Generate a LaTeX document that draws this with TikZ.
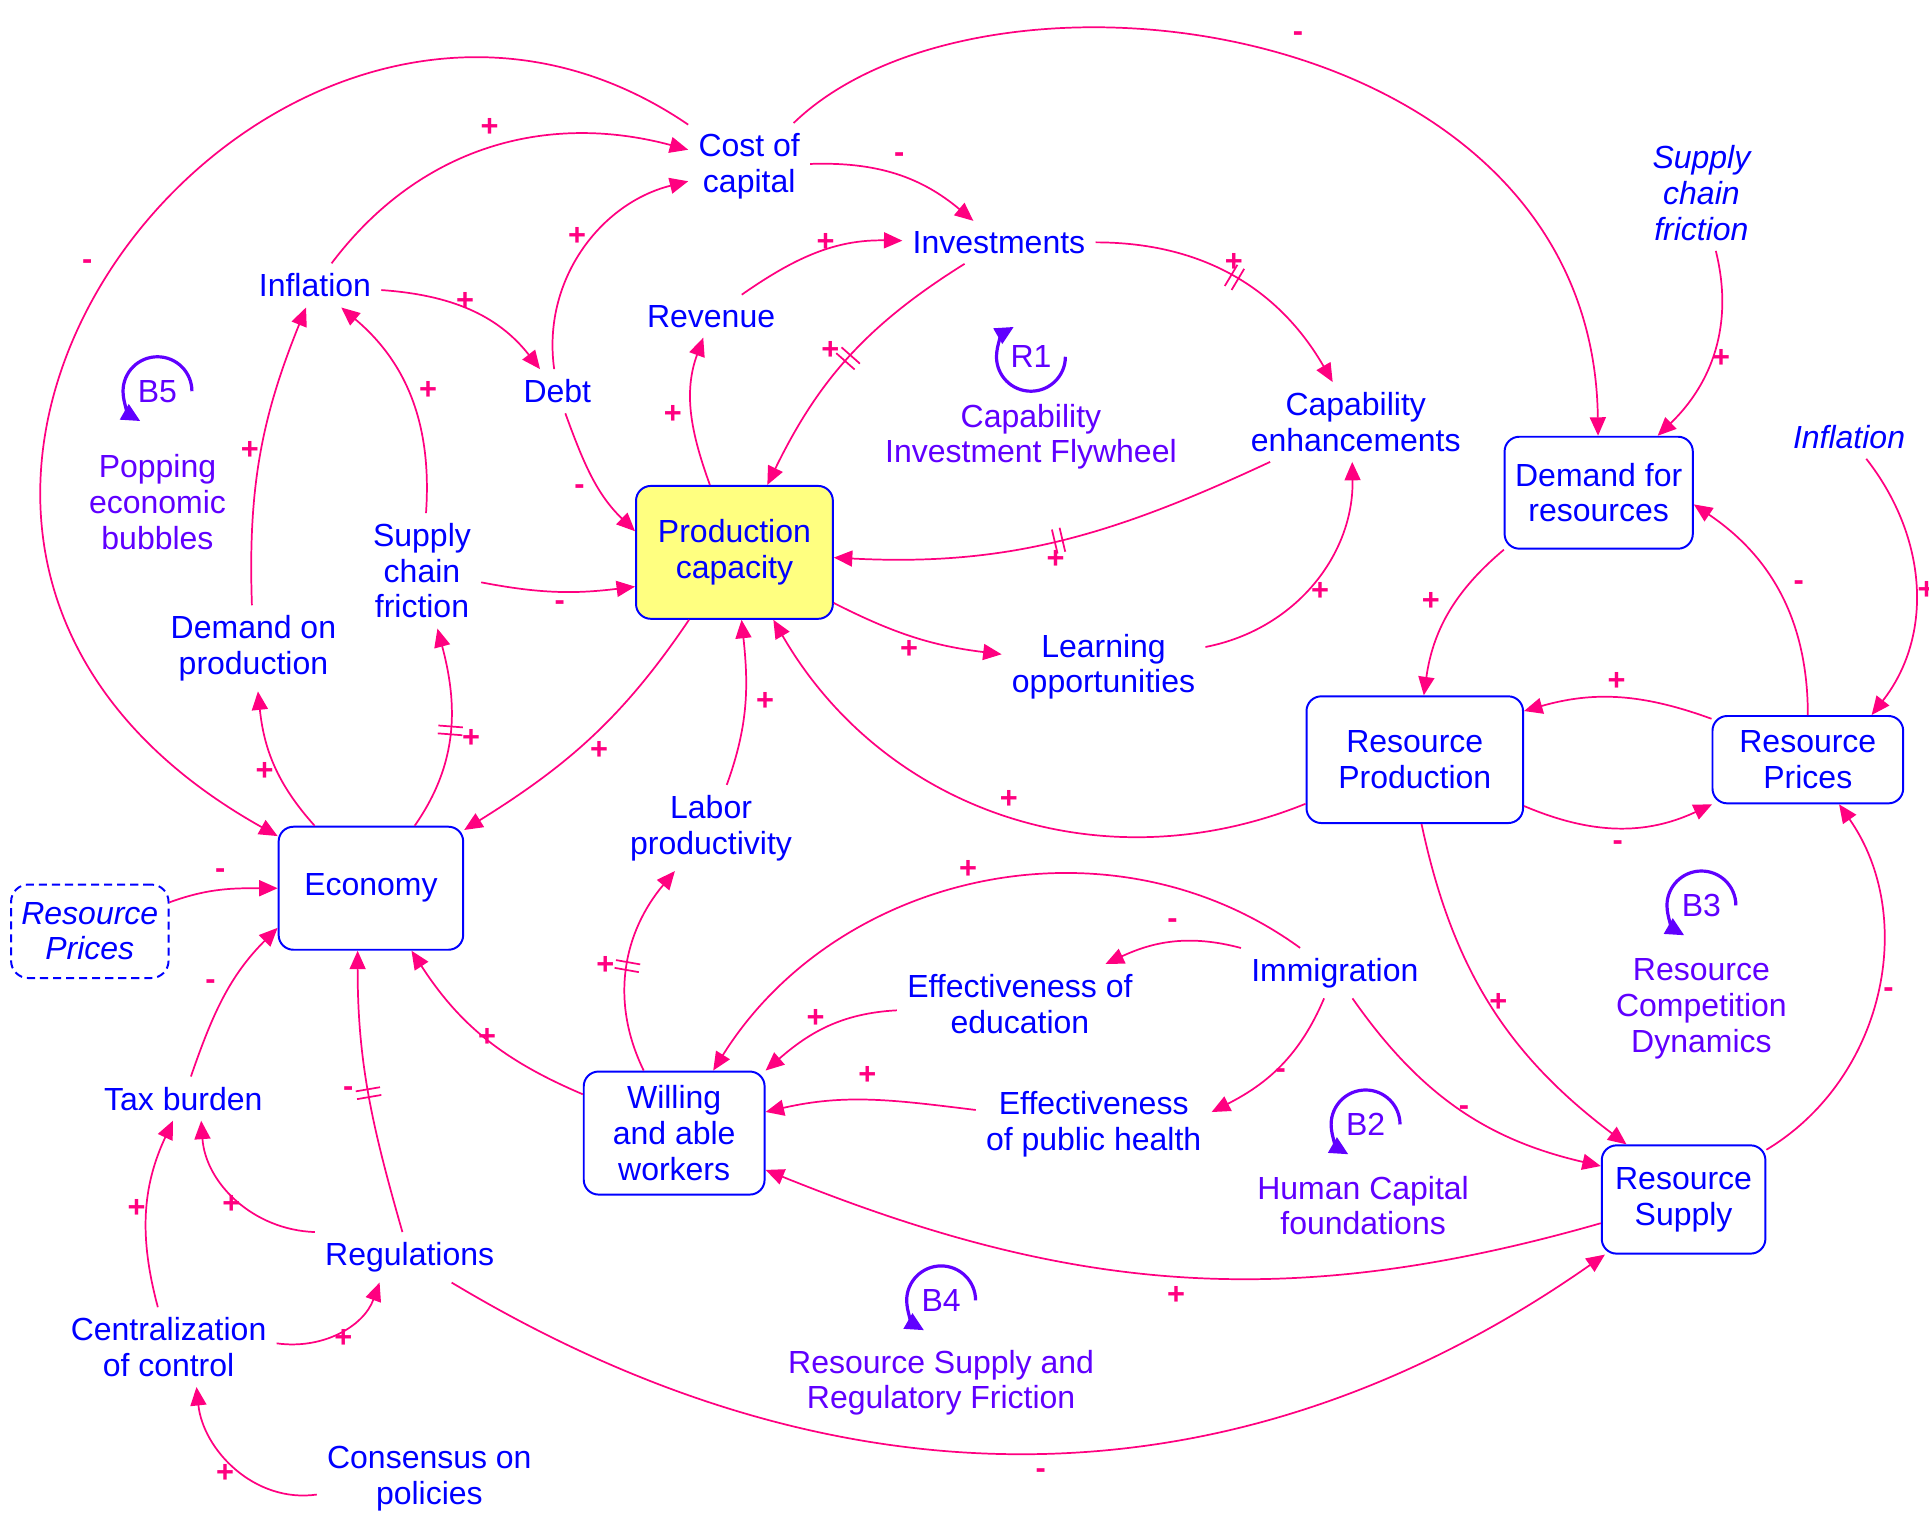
\documentclass[tikz,border=0pt]{standalone}
\usepackage{fontspec}
\setmainfont{Liberation Sans}
\usetikzlibrary{arrows.meta,decorations.markings}
\definecolor{pinkc}{RGB}{255,0,128}
\definecolor{bluec}{RGB}{0,0,255}
\definecolor{loopc}{RGB}{96,0,255}
\definecolor{yelc}{RGB}{255,255,128}
\begin{document}
\begin{tikzpicture}[x=0.5pt,y=0.5pt,
  var/.style={text=bluec,align=center,inner sep=4pt,font=\fontsize{13}{14.5}\selectfont},
  ivar/.style={var,font=\fontsize{13}{14.5}\selectfont\itshape},
  box/.style={var,draw=bluec,line width=0.8pt,rounded corners=6pt},
  lnk/.style={draw=pinkc,line width=0.7pt,-{Triangle[length=7.5pt,width=6.5pt]}},
  sgn/.style={text=pinkc,inner sep=0pt,font=\fontsize{12.5}{14}\selectfont\bfseries},
  dly/.style={postaction={draw=none,decorate,decoration={markings,mark=at position #1 with {\draw[pinkc,line width=0.7pt,arrows=-] (-1.6pt,-5pt)--(-1.6pt,5pt) (1.6pt,-5pt)--(1.6pt,5pt);}}}},
  lpn/.style={text=loopc,inner sep=0pt,font=\fontsize{13}{14.5}\selectfont},
  lparc/.style={draw=loopc,line width=1.3pt,-{Triangle[length=7.5pt,width=7pt]}},
  lplab/.style={text=loopc,align=center,inner sep=0pt,font=\fontsize{13}{14.5}\selectfont},
]
\path[use as bounding box,fill=white] (0,0) rectangle (1568,-1247);

% ---- variables ----
\node[var] (cost) at (609,-135) {Cost of\\capital};
\node[var] (inv) at (812,-197) {Investments};
\node[var] (rev) at (578,-257) {Revenue};
\node[var] (infl) at (256,-232) {Inflation};
\node[var] (debt) at (453,-318) {Debt};
\node[box,fill=yelc,minimum width=80pt,minimum height=54pt] (pc) at (597,-449) {Production\\capacity};
\node[var] (cap) at (1102,-343) {Capability\\enhancements};
\node[var] (learn) at (897,-542) {Learning\\opportunities};
\node[var] (scf) at (343,-464) {Supply\\chain\\friction};
\node[var] (dop) at (206,-527) {Demand on\\production};
\node[box,minimum width=75pt,minimum height=50pt] (eco) at (301.5,-722) {Economy};
\node[box,dash pattern=on 3.3pt off 2pt,rounded corners=7pt,minimum width=64pt,minimum height=38pt,font=\fontsize{13}{14.5}\selectfont\itshape] (rpd) at (73,-757) {Resource\\Prices};
\node[var] (lab) at (578,-673) {Labor\\productivity};
\node[var] (tax) at (149,-893) {Tax burden};
\node[var] (reg) at (333,-1022) {Regulations};
\node[var] (cent) at (137,-1095) {Centralization\\of control};
\node[var] (cons) at (349,-1202) {Consensus on\\policies};
\node[box,minimum width=73.5pt,minimum height=50pt] (wil) at (548,-921) {Willing\\and able\\workers};
\node[var] (edu) at (829,-816) {Effectiveness of\\education};
\node[var] (imm) at (1085,-791) {Immigration};
\node[var] (eph) at (889,-914) {Effectiveness\\of public health};
\node[box,minimum width=66.5pt,minimum height=44pt] (rs) at (1368.5,-975) {Resource\\Supply};
\node[box,minimum width=88pt,minimum height=51.5pt] (rprod) at (1150,-617.5) {Resource\\Production};
\node[box,minimum width=77.5pt,minimum height=35.5pt] (rpr) at (1469.5,-617.5) {Resource\\Prices};
\node[box,minimum width=76.5pt,minimum height=45.5pt] (dfr) at (1299.5,-400.5) {Demand for\\resources};
\node[ivar] (scf2) at (1383,-157) {Supply\\chain\\friction};
\node[ivar] (infl2) at (1503,-355) {Inflation};

% ---- loops ----
\node[lpn] (r1) at (838,-290) {R1};
\draw[lparc] (r1.center) ++(0:14pt) arc[start angle=0,end angle=-240,radius=14pt];
\node[lplab] (r1l) at (838,-355) {Capability\\Investment Flywheel};
\node[lpn] (b5) at (128,-318) {B5};
\draw[lparc] (b5.center) ++(0:14pt) arc[start angle=0,end angle=240,radius=14pt];
\node[lplab] (b5l) at (128,-408) {Popping\\economic\\bubbles};
\node[lpn] (b2) at (1110,-914) {B2};
\draw[lparc] (b2.center) ++(0:14pt) arc[start angle=0,end angle=240,radius=14pt];
\node[lplab] (b2l) at (1108,-980) {Human Capital\\foundations};
\node[lpn] (b3) at (1383,-736) {B3};
\draw[lparc] (b3.center) ++(0:14pt) arc[start angle=0,end angle=240,radius=14pt];
\node[lplab] (b3l) at (1383,-820) {Resource\\Competition\\Dynamics};
\node[lpn] (b4) at (765,-1057) {B4};
\draw[lparc] (b4.center) ++(0:14pt) arc[start angle=0,end angle=240,radius=14pt];
\node[lplab] (b4l) at (765,-1124) {Resource Supply and\\Regulatory Friction};

% ---- links ----
\draw[lnk] (cost) to[out=2,in=140] (inv);
\draw[lnk] (cost) .. controls (220,130) and (-220,-430) .. (eco);
\draw[lnk] (cost) .. controls (800,50) and (1295,-10) .. (dfr);
\draw[lnk] (infl) to[out=53,in=165] (cost);
\draw[lnk] (debt) to[out=98,in=194] (cost);
\draw[lnk] (rev) to[out=35,in=179] (inv);
\draw[lnk,dly=0.5] (inv) to[out=-148,in=64] (pc);
\draw[lnk,dly=0.5] (inv) to[out=0,in=120] (cap);
\draw[lnk] (infl) to[out=-4,in=128] (debt);
\draw[lnk] (debt) to[out=-70,in=136] (pc.168);
\draw[lnk] (pc) to[out=110,in=250] (rev);
\draw[lnk,dly=0.5] (cap) to[out=205,in=-3] (pc);
\draw[lnk] (pc) to[out=-27,in=173] (learn);
\draw[lnk] (learn) to[out=11,in=271] (cap.265);
\draw[lnk] (scf) to[out=-11,in=187] (pc.199);
\draw[lnk] (scf) to[out=86,in=320] (infl);
\draw[lnk] (dop) to[out=92,in=248] (infl);
\draw[lnk] (eco) to[out=132,in=276] (dop);
\draw[lnk,dly=0.5] (eco) to[out=55,in=285] (scf);
\draw[lnk] (pc) to[out=-124,in=32] (eco);
\draw[lnk] (lab) to[out=70,in=276] (pc);
\draw[lnk] (rprod) to[out=202,in=300] (pc);
\draw[lnk] (rpd) to[out=20,in=180] (eco);
\draw[lnk] (tax) to[out=71,in=225] (eco.203);
\draw[lnk,dly=0.5] (reg) to[out=106,in=270] (eco.258);
\draw[lnk] (wil) to[out=157,in=303] (eco);
\draw[lnk,dly=0.5] (wil) to[out=116,in=230] (lab);
\draw[lnk] (reg.north west) to[out=178,in=274] (tax.-51);
\draw[lnk] (cent) to[out=105,in=245] (tax);
\draw[lnk] (cent.2) to[out=-8,in=250] (reg.220);
\draw[lnk] (cons) to[out=188,in=276] (cent.-55);
\draw[lnk] (reg) to[out=-31,in=215] (rs);
\draw[lnk] (imm) to[out=144,in=58] (wil);
\draw[lnk] (imm) to[out=165,in=25] (edu);
\draw[lnk] (edu) to[out=183,in=41] (wil.north east);
\draw[lnk] (eph) to[out=173,in=13] (wil);
\draw[lnk] (imm) to[out=247,in=27] (eph.6);
\draw[lnk] (imm) to[out=-55,in=167] (rs.158);
\draw[lnk] (rs) to[out=196,in=338] (wil);
\draw[lnk] (rprod.-84) to[out=-78,in=143] (rs.136);
\draw[lnk] (rs) to[out=31,in=305] (rpr);
\draw[lnk] (rprod) to[out=-23,in=205] (rpr);
\draw[lnk] (rpr.157) to[out=160,in=16] (rprod.24);
\draw[lnk] (rpr) to[out=90,in=326] (dfr.-7);
\draw[lnk] (dfr.211) to[out=220,in=82] (rprod);
\draw[lnk] (scf2) to[out=284,in=44] (dfr);
\draw[lnk] (infl2) to[out=-52,in=52] (rpr.35);

% ---- polarity signs ----
\node[sgn] (s1) at (731,-128) {-};
\node[sgn] (s2) at (71,-215) {-};
\node[sgn] (s3) at (1055,-30) {-};
\node[sgn] (s4) at (398,-104) {+};
\node[sgn] (s5) at (469,-192) {+};
\node[sgn] (s6) at (671,-197) {+};
\node[sgn] (s7) at (675,-285) {+};
\node[sgn] (s8) at (1003,-213) {+};
\node[sgn] (s9) at (378,-245) {+};
\node[sgn] (s10) at (471,-398) {-};
\node[sgn] (s11) at (547,-337) {+};
\node[sgn] (s12) at (858,-455) {+};
\node[sgn] (s13) at (739,-528) {+};
\node[sgn] (s14) at (1073,-481) {+};
\node[sgn] (s15) at (455,-492) {-};
\node[sgn] (s16) at (348,-317) {+};
\node[sgn] (s17) at (203,-366) {+};
\node[sgn] (s18) at (215,-627) {+};
\node[sgn] (s19) at (383,-600) {+};
\node[sgn] (s20) at (487,-610) {+};
\node[sgn] (s21) at (622,-570) {+};
\node[sgn] (s22) at (820,-650) {+};
\node[sgn] (s23) at (179,-710) {-};
\node[sgn] (s24) at (171,-800) {-};
\node[sgn] (s25) at (283,-887) {-};
\node[sgn] (s26) at (396,-843) {+};
\node[sgn] (s27) at (492,-785) {+};
\node[sgn] (s28) at (188,-979) {+};
\node[sgn] (s29) at (111,-982) {+};
\node[sgn] (s30) at (279,-1088) {+};
\node[sgn] (s31) at (183,-1198) {+};
\node[sgn] (s32) at (846,-1198) {-};
\node[sgn] (s33) at (787,-707) {+};
\node[sgn] (s34) at (953,-751) {-};
\node[sgn] (s35) at (663,-828) {+};
\node[sgn] (s36) at (705,-874) {+};
\node[sgn] (s37) at (1041,-873) {-};
\node[sgn] (s38) at (1190,-903) {-};
\node[sgn] (s39) at (956,-1053) {+};
\node[sgn] (s40) at (1218,-815) {+};
\node[sgn] (s41) at (1535,-807) {-};
\node[sgn] (s42) at (1315,-687) {-};
\node[sgn] (s43) at (1314,-554) {+};
\node[sgn] (s44) at (1462,-476) {-};
\node[sgn] (s45) at (1163,-489) {+};
\node[sgn] (s46) at (1399,-291) {+};
\node[sgn] (s47) at (1566,-480) {+};
\end{tikzpicture}
\end{document}
